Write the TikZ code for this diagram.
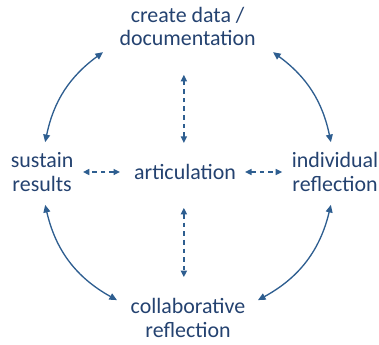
\documentclass[tikz,border=0pt]{standalone}
\usepackage{fontspec}
\setmainfont{Carlito}
\usetikzlibrary{positioning}
\usetikzlibrary {arrows.meta}
\definecolor{cycletext}{RGB}{36,66,112}
\definecolor{cycleline}{RGB}{46,94,144}
\tikzset{stage/.style={draw=none,align=center,inner sep=0pt,text=cycletext,
font=\fontsize{16.5}{17.8}\selectfont}}
\tikzset{cyclearc/.style={draw=cycleline,line width=1pt,
{Triangle[length=2mm,width=1.8mm]}-{Triangle[length=2mm,width=1.8mm]}}}
\tikzset{linkarrow/.style={draw=cycleline,line width=1pt,dash pattern=on 3.5pt off 3pt,
{Triangle[length=1.7mm,width=1.6mm]}-{Triangle[length=1.7mm,width=1.6mm]}}}

\begin{document}
\begin{tikzpicture}
    \useasboundingbox (-4.895,-4.551) rectangle (5.133,4.551);

        \node[stage] (art) at (0, 0) {articulation};
        \node[stage] (create) at (0.07, 3.85) {create data /\\documentation};
        \node[stage] (sustain) at (-3.78, 0) {sustain\\results};
        \node[stage] (indiv) at (3.97, 0) {individual\\reflection};
        \node[stage] (collab) at (0.08, -3.87) {collaborative\\reflection};

        % ends of the outer arcs
        \coordinate (createl) at ([xshift=-2.24cm,yshift=-0.68cm]create);
        \coordinate (creater) at ([xshift=2.26cm,yshift=-0.68cm]create);
        \coordinate (sustaint) at ([xshift=0.08cm,yshift=0.79cm]sustain);
        \coordinate (sustainb) at ([xshift=0.08cm,yshift=-0.87cm]sustain);
        \coordinate (indivt) at ([xshift=-0.11cm,yshift=0.79cm]indiv);
        \coordinate (indivb) at ([xshift=-0.11cm,yshift=-0.87cm]indiv);
        \coordinate (collabl) at ([xshift=-1.88cm,yshift=0.48cm]collab);
        \coordinate (collabr) at ([xshift=1.85cm,yshift=0.48cm]collab);

        \draw[cyclearc] (createl) to[bend right=21] (sustaint);
        \draw[cyclearc] (sustainb) to[bend right=24] (collabl);
        \draw[cyclearc] (collabr) to[bend right=24] (indivb);
        \draw[cyclearc] (indivt) to[bend right=21] (creater);

        % dashed links to the middle
        \coordinate (artn) at ([xshift=-0.03cm,yshift=0.77cm]art);
        \coordinate (arts) at ([xshift=-0.03cm,yshift=-0.95cm]art);
        \coordinate (artw) at ([xshift=-1.72cm]art);
        \coordinate (arte) at ([xshift=1.59cm]art);
        \coordinate (creates) at ([xshift=-0.1cm,yshift=-1.28cm]create);
        \coordinate (collabn) at ([xshift=-0.11cm,yshift=1.09cm]collab);
        \coordinate (sustaine) at ([xshift=1.08cm]sustain);
        \coordinate (indivw) at ([xshift=-1.40cm]indiv);

        \draw[linkarrow] (artn) -- (creates);
        \draw[linkarrow] (arts) -- (collabn);
        \draw[linkarrow] (artw) -- (sustaine);
        \draw[linkarrow] (arte) -- (indivw);

\end{tikzpicture}
\end{document}
